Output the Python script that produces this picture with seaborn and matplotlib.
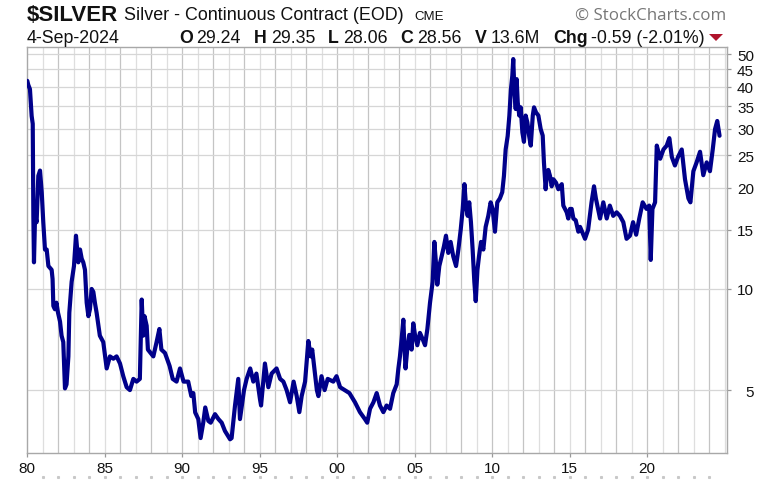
import matplotlib
matplotlib.use("Agg")
import matplotlib.pyplot as plt
import matplotlib.transforms as mtransforms
from matplotlib.patches import Polygon
import seaborn as sns
import pandas as pd

# ---------------- data ----------------
years = [
    1980.02, 1980.08, 1980.19, 1980.30, 1980.37, 1980.41, 1980.45, 1980.52, 1980.62, 1980.73,
    1980.84, 1980.95, 1981.05, 1981.16, 1981.27, 1981.38, 1981.59, 1981.65, 1981.70, 1981.80,
    1981.90, 1982.00, 1982.13, 1982.23, 1982.34, 1982.45, 1982.55, 1982.67, 1982.73, 1982.88,
    1983.03, 1983.16, 1983.24, 1983.31, 1983.42, 1983.53, 1983.63, 1983.74, 1983.85, 1983.96,
    1984.06, 1984.17, 1984.28, 1984.38, 1984.49, 1984.70, 1984.92, 1985.14, 1985.35, 1985.57,
    1985.78, 1986.00, 1986.21, 1986.43, 1986.64, 1986.86, 1987.07, 1987.28, 1987.40, 1987.50,
    1987.58, 1987.72, 1987.80, 1988.15, 1988.36, 1988.54, 1988.67, 1988.90, 1989.20, 1989.40,
    1989.65, 1989.87, 1990.10, 1990.40, 1990.60, 1990.73, 1990.85, 1991.05, 1991.20, 1991.37,
    1991.50, 1991.70, 1991.85, 1992.13, 1992.35, 1992.56, 1992.77, 1993.10, 1993.20, 1993.42,
    1993.63, 1993.74, 1994.00, 1994.17, 1994.40, 1994.60, 1994.80, 1995.03, 1995.10, 1995.35,
    1995.57, 1995.78, 1996.10, 1996.33, 1996.54, 1996.75, 1996.97, 1997.20, 1997.40, 1997.57,
    1997.72, 1997.94, 1998.15, 1998.30, 1998.40, 1998.70, 1998.80, 1999.00, 1999.20, 1999.40,
    1999.76, 1999.97, 2000.20, 2000.50, 2000.80, 2001.16, 2001.48, 2001.80, 2001.95, 2002.13,
    2002.35, 2002.56, 2002.77, 2002.99, 2003.20, 2003.42, 2003.63, 2003.85,
    2003.96, 2004.06, 2004.17, 2004.28, 2004.34, 2004.42, 2004.53, 2004.66, 2004.81, 2004.92,
    2005.03, 2005.18, 2005.35, 2005.52, 2005.68, 2005.83, 2006.00, 2006.17, 2006.28, 2006.38,
    2006.47, 2006.60, 2006.75, 2006.90, 2007.03, 2007.18, 2007.33, 2007.50, 2007.68, 2007.83,
    2007.98, 2008.11, 2008.22, 2008.32, 2008.43, 2008.53, 2008.64, 2008.75, 2008.86, 2008.95,
    2009.06, 2009.16, 2009.29, 2009.44, 2009.59, 2009.76, 2009.91, 2010.04, 2010.19, 2010.34,
    2010.51, 2010.66, 2010.77, 2010.88, 2011.01, 2011.12, 2011.22, 2011.31, 2011.37, 2011.44,
    2011.53, 2011.59, 2011.66, 2011.76, 2011.85, 2011.96, 2012.06, 2012.17, 2012.28, 2012.39,
    2012.50, 2012.63, 2012.71, 2012.84, 2012.99, 2013.14, 2013.27, 2013.35, 2013.46, 2013.53,
    2013.63, 2013.74, 2013.85, 2013.96, 2014.13, 2014.28, 2014.50, 2014.60, 2014.82, 2014.92,
    2015.03, 2015.14, 2015.25, 2015.40, 2015.57, 2015.68,
    2016.00, 2016.20, 2016.42, 2016.58, 2016.70, 2016.97, 2017.18, 2017.40, 2017.60,
    2017.82, 2018.04, 2018.25, 2018.47, 2018.68, 2018.90, 2019.10, 2019.30, 2019.50, 2019.72,
    2019.97, 2020.14, 2020.24, 2020.35, 2020.52, 2020.63, 2020.85, 2021.06, 2021.27, 2021.44,
    2021.60, 2021.80, 2022.00, 2022.24, 2022.45, 2022.67, 2022.80, 2022.99, 2023.20, 2023.42,
    2023.63, 2023.85, 2024.06, 2024.24, 2024.39, 2024.53, 2024.68,
]
prices = [
    41.6, 40.5, 39.3, 32.7, 31.0, 16.5, 12.0, 16.5, 15.8, 21.7,
    22.5, 19.4, 15.8, 13.1, 13.1, 11.7, 11.4, 10.7, 8.9, 8.7,
    9.1, 8.5, 8.0, 7.26, 6.95, 5.06, 5.2, 6.3, 8.5, 10.5,
    11.7, 14.4, 13.1, 12.0, 13.1, 12.3, 12.0, 11.4, 9.1, 8.3,
    8.7, 10.0, 9.8, 9.1, 8.5, 7.26, 6.95, 5.8, 6.3, 6.2,
    6.3, 6.0, 5.5, 5.1, 5.0, 5.4, 5.3, 5.4, 9.3, 7.26,
    8.3, 7.77, 6.6, 6.3, 6.95, 7.6, 6.6, 6.45, 5.9, 5.4,
    5.3, 5.8, 5.3, 5.3, 4.8, 4.9, 4.29, 4.1, 3.6, 4.0,
    4.44, 4.05, 4.0, 4.24, 4.1, 4.0, 3.78, 3.57, 3.6, 4.5,
    5.4, 4.1, 5.0, 5.4, 5.8, 5.3, 5.6, 4.7, 4.5, 6.0,
    5.1, 5.6, 5.8, 5.4, 5.3, 5.0, 4.6, 5.3, 4.8, 4.3,
    4.8, 5.3, 7.0, 6.3, 6.6, 5.0, 4.8, 5.5, 5.0, 5.4,
    5.3, 5.5, 5.1, 5.0, 4.9, 4.6, 4.3, 4.1, 4.0, 4.4,
    4.6, 4.9, 4.5, 4.3, 4.5, 4.4, 4.9, 5.2,
    5.8, 6.3, 7.1, 8.1, 6.9, 5.8, 6.6, 7.3, 6.6, 7.9,
    7.3, 6.8, 7.4, 7.1, 6.8, 7.6, 9.1, 10.5, 13.8, 12.0,
    10.3, 11.7, 12.5, 13.4, 14.4, 12.8, 13.8, 12.5, 11.7, 13.1,
    15.0, 17.3, 20.5, 17.7, 16.5, 18.1, 15.8, 13.1, 10.5, 9.2,
    11.4, 12.5, 13.8, 13.1, 15.3, 16.5, 18.1, 17.3, 14.8, 18.1,
    18.6, 19.4, 21.7, 26.0, 28.5, 32.8, 39.3, 43.1, 48.3, 39.3,
    34.3, 42.1, 35.9, 32.8, 34.7, 29.2, 27.4, 32.8, 31.3, 28.6,
    26.7, 32.8, 34.7, 33.5, 32.8, 29.9, 28.6, 23.8, 19.8, 21.7,
    22.6, 21.7, 20.2, 21.2, 20.7, 19.8, 20.5, 17.7, 16.9, 16.2,
    17.3, 17.3, 16.2, 16.0, 14.8, 15.3,
    14.1, 15.0, 18.1, 20.2, 18.6, 16.2, 18.1, 16.2, 17.7,
    16.5, 16.9, 16.5, 15.8, 14.1, 14.4, 15.8, 14.5, 16.2, 18.1,
    17.3, 17.7, 12.2, 17.3, 18.1, 26.7, 24.4, 26.0, 26.7, 28.1,
    24.7, 23.3, 24.7, 26.0, 21.2, 18.6, 18.1, 22.4, 23.8, 25.6,
    21.8, 23.8, 22.4, 26.0, 29.9, 31.6, 28.56,
]
y_ticks = [5, 10, 15, 20, 25, 30, 35, 40, 45, 50]
x_ticks = [1980, 1985, 1990, 1995, 2000, 2005, 2010, 2015, 2020]
x_labels = ["80", "85", "90", "95", "00", "05", "10", "15", "20"]

# header texts
symbol = "$SILVER"
title = "Silver - Continuous Contract (EOD)"
exchange = "CME"
credit = "\u00a9 StockCharts.com"
date_label = "4-Sep-2024"
quote_keys = ["O", "H", "L", "C", "V", "Chg"]
quote_vals = ["29.24", "29.35", "28.06", "28.56", "13.6M", "-0.59 (-2.01%)"]

# ---------------- figure ----------------
W, H = 781, 481
sns.set_style("white")
plt.rcParams["font.family"] = ["Liberation Sans", "DejaVu Sans"]

fig = plt.figure(figsize=(W / 100, H / 100), dpi=100)
L, R, T, B = 27, 727, 48, 454
ax = fig.add_axes([L / W, 1 - B / H, (R - L) / W, (B - T) / H])

ax.set_yscale("log")
ax.set_ylim(3.25, 52.46)
ax.set_xlim(1980.0, 2025.16)

# grid
grid_years = list(range(1981, 2026))
for yr in grid_years:
    ax.axvline(yr, color="#c4c4c4" if yr % 2 == 0 else "#dedede", lw=0.9, zorder=0)
for v in y_ticks:
    ax.axhline(v, color="#d6d6d6", lw=0.9, zorder=0)

df = pd.DataFrame({"year": years, "price": prices})
sns.lineplot(data=df, x="year", y="price", ax=ax, color="#00008a",
             linewidth=3.0, zorder=3)
ax.set_xlabel("")
ax.set_ylabel("")

# faint dotted row under the date labels (top of the next panel)
blend = mtransforms.blended_transform_factory(ax.transData, fig.transFigure)
ax.plot(grid_years[:-1], [1 - 478 / H] * (len(grid_years) - 1), linestyle="none",
        marker="s", markersize=1.2, color="#c8c8c8", transform=blend,
        clip_on=False)

# y axis on right
ax.yaxis.tick_right()
ax.set_yticks(y_ticks)
ax.set_yticklabels([str(v) for v in y_ticks])
ax.yaxis.set_minor_locator(matplotlib.ticker.NullLocator())
ax.tick_params(axis="y", which="major", right=True, left=False, length=3,
               width=0.9, color="#999999", labelsize=11, labelcolor="#111111",
               pad=16.5)
for lab in ax.get_yticklabels():
    lab.set_horizontalalignment("right")

ax.set_xticks(x_ticks)
ax.set_xticklabels(x_labels)
ax.tick_params(axis="x", which="major", bottom=True, length=3, width=0.9,
               color="#999999", labelsize=11, labelcolor="#111111", pad=3)

for s in ax.spines.values():
    s.set_color("#a8a8a8")
    s.set_linewidth(1.0)

# ---------------- header ----------------
renderer = fig.canvas.get_renderer()


def put(x, y, s, size, **kw):
    return fig.text(x / W, 1 - y / H, s, fontsize=size, va="baseline",
                    ha="left", **kw)


def width_px(t):
    return t.get_window_extent(renderer).width


def fit_text(x, y, s, width, **kw):
    t = put(x, y, s, 10, **kw)
    t.set_fontsize(10 * width / width_px(t))
    return t


fit_text(27, 21, symbol, 91, fontweight="bold", color="#111111")
fit_text(124, 20, title, 281, color="#111111")
put(414, 20, exchange, 9.5, color="#111111")
fit_text(575, 20, credit, 150, color="#777777",
         family=["Open Sans", "DejaVu Sans"])

row2 = 43
t_date = fit_text(27, row2, date_label, 93, color="#111111")
fs2 = t_date.get_fontsize()

# lay out the quote row sequentially, then right-align it to x = 705
pieces = []
x = 0.0
for i, (k, v) in enumerate(zip(quote_keys, quote_vals)):
    tk = put(x, row2, k, fs2, fontweight="bold", color="#111111")
    x += width_px(tk) + 4
    tv = put(x, row2, v, fs2, color="#111111")
    x += width_px(tv) + (13 if i < len(quote_keys) - 1 else 0)
    pieces += [tk, tv]
shift = 705 - x
for t in pieces:
    px, py = t.get_position()
    t.set_position((px + shift / W, py))

tri = [(709, 35), (723, 35), (716, 42)]
fig.add_artist(Polygon([(x / W, 1 - y / H) for x, y in tri], closed=True,
                       transform=fig.transFigure, facecolor="#b0142c",
                       edgecolor="none"))

fig.savefig("out.png", dpi=100)
